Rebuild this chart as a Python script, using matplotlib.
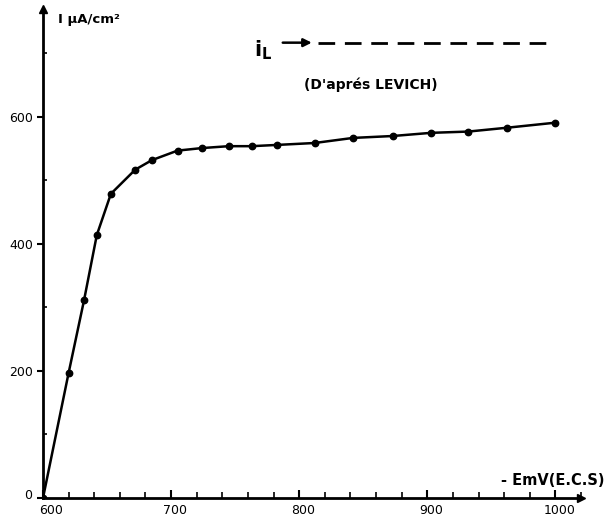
import matplotlib
matplotlib.use("Agg")
import matplotlib.pyplot as plt
import matplotlib.transforms as mtransforms
from matplotlib.ticker import MultipleLocator

# Data
E_mV = [600, 620, 632, 642, 653, 672, 685, 705, 724, 745, 763, 783, 812, 842, 873, 903, 932, 962, 1000]
I_uA = [0, 197, 311, 414, 479, 517, 532, 547, 551, 554, 554, 556, 559, 567, 570, 575, 577, 583, 591]
I_levich = 717
x_ticks = [600, 700, 800, 900, 1000]
y_ticks = [0, 200, 400, 600]

plt.rcParams['mathtext.default'] = 'regular'
fig = plt.figure(figsize=(6.14, 5.17), dpi=100)
ax = fig.add_axes([43/614, 19/517, 538/614, 489/517])
ax.set_xlim(600, 1020)
ax.set_ylim(0, 770)

ax.plot(E_mV, I_uA, color='black', lw=1.8, marker='o', ms=4.6, zorder=3)

# Levich limiting current
ax.annotate('', xy=(812, I_levich), xytext=(785, I_levich),
            arrowprops=dict(arrowstyle='-|>', color='black', lw=1.8, mutation_scale=12))
ax.plot([815, 998], [I_levich, I_levich], color='black', lw=2, linestyle=(0, (6, 3.5)))
ax.text(772, 705, r'$i_L$', fontsize=15, ha='center', va='center', fontweight='bold')
ax.text(856, 650, "(D'aprés LEVICH)", fontsize=10, fontweight='bold', ha='center', va='center')

# Axes styling
for s in ['top', 'right']:
    ax.spines[s].set_visible(False)
for s in ['left', 'bottom']:
    ax.spines[s].set_linewidth(2)
ax.plot(1, 0, '>k', ms=6, transform=ax.transAxes, clip_on=False)
ax.plot(0, 1, '^k', ms=6, transform=ax.transAxes, clip_on=False)

ax.set_xticks(x_ticks)
ax.set_yticks(y_ticks)
ax.xaxis.set_minor_locator(MultipleLocator(20))
ax.yaxis.set_minor_locator(MultipleLocator(100))
ax.tick_params(axis='x', which='major', direction='in', length=6, width=1.5, labelsize=9, pad=3)
ax.tick_params(axis='x', which='minor', direction='in', length=4, width=1.2)
ax.tick_params(axis='y', which='major', direction='out', length=4, width=1.5, labelsize=9, pad=3)
ax.tick_params(axis='y', which='minor', direction='in', length=3, width=1.2)

# shift x tick labels slightly right as in the reference
fig.canvas.draw()
xlabels = ax.get_xticklabels()
for i, lab in enumerate(xlabels):
    dx = 6 if i == 0 else 3
    lab.set_transform(lab.get_transform() + mtransforms.ScaledTranslation(dx/72, -1/72, fig.dpi_scale_trans))
ylabels = ax.get_yticklabels()
ylabels[0].set_transform(ylabels[0].get_transform() + mtransforms.ScaledTranslation(-1/72, 3/72, fig.dpi_scale_trans))

ax.text(636, 753, 'I μA/cm²', fontsize=9.5, fontweight='bold', ha='center', va='center')
ax.text(998, 28, '- EmV(E.C.S)', fontsize=10.5, fontweight='bold', ha='center', va='center', clip_on=False)

fig.savefig('out.png', dpi=100)
